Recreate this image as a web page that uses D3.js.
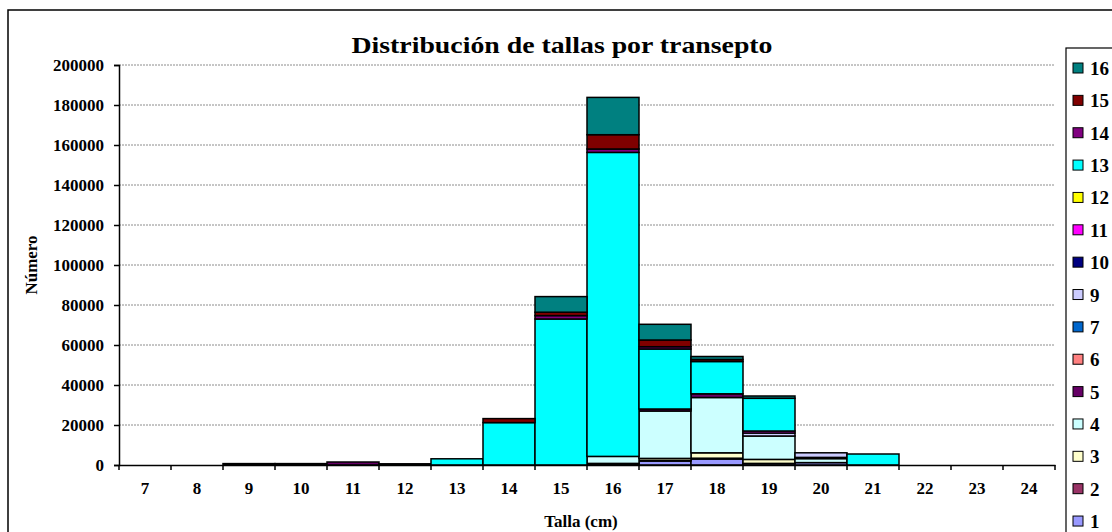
<!DOCTYPE html>
<html><head><meta charset="utf-8">
<script src="https://cdn.jsdelivr.net/npm/d3@7"></script>
<style>body{margin:0;background:#fff}text{font-family:"Liberation Serif","Times New Roman",serif;font-weight:bold}</style>
</head><body><svg id="c" width="1112" height="532"></svg>
<script>
const categories = ["7","8","9","10","11","12","13","14","15","16","17","18","19","20","21","22","23","24"];
const seriesNames = ["1","2","3","4","5","6","7","9","10","11","12","13","14","15","16"];
const seriesColors = ["#9999FF","#993366","#FFFFCC","#CCFFFF","#660066","#FF8080","#0066CC","#CCCCFF","#000080","#FF00FF","#FFFF00","#00FFFF","#800080","#800000","#008080"];
//                 7  8   9    10   11    12   13    14     15     16     17     18     19     20    21   22 23 24
const s1  = [0,0,0,0,0,0,0,0,0,500,2000,3000,800,1200,0,0,0,0];
const s2  = [0,0,0,0,0,0,0,0,0,0,300,400,0,0,0,0,0,0];
const s3  = [0,0,0,0,0,0,0,0,0,300,1000,2700,2000,0,0,0,0,0];
const s4  = [0,0,0,0,0,0,0,0,0,3500,23700,27650,11700,2000,0,0,0,0];
const s5  = [0,0,700,700,1500,600,0,0,0,0,1000,1850,0,600,0,0,0,0];
const s6  = [0,0,0,0,0,0,0,0,0,0,0,0,0,0,0,0,0,0];
const s7  = [0,0,0,0,0,0,0,0,0,0,0,0,0,0,0,0,0,0];
const s9  = [0,0,0,0,0,0,0,0,0,0,0,0,1500,2300,0,0,0,0];
const s10 = [0,0,0,0,0,0,0,0,0,0,0,0,0,0,0,0,0,0];
const s11 = [0,0,0,0,0,0,0,0,0,0,0,0,1000,0,0,0,0,0];
const s12 = [0,0,0,0,0,0,0,0,0,0,0,0,0,0,0,0,0,0];
const s13 = [0,0,0,0,0,0,3100,21200,73000,152000,30000,16150,16350,0,5500,0,0,0];
const s14 = [0,0,0,0,0,0,0,0,1700,1700,1150,0,0,0,0,0,0,0];
const s15 = [0,0,0,0,0,0,0,2000,1700,7150,3350,1000,0,0,0,0,0,0];
const s16 = [0,0,0,0,0,0,0,0,7800,18650,7850,1500,1150,0,0,0,0,0];
const seriesValues = [s1,s2,s3,s4,s5,s6,s7,s9,s10,s11,s12,s13,s14,s15,s16];
const yTicks = [0,20000,40000,60000,80000,100000,120000,140000,160000,180000,200000];

const svg = d3.select("#c");
const X0=119, X1=1055, Y0=465, Y1=65;

// outer frame
svg.append("rect").attr("x",8).attr("y",10).attr("width",1200).attr("height",600)
  .attr("fill","#fff").attr("stroke","#000").attr("stroke-width",1.5);

const x = d3.scaleBand().domain(categories).range([X0,X1]).padding(0);
const y = d3.scaleLinear().domain([0,200000]).range([Y0,Y1]);

// gridlines
svg.append("g").selectAll("line").data(yTicks.filter(d=>d>0)).join("line")
  .attr("x1",X0).attr("x2",X1).attr("y1",d=>y(d)).attr("y2",d=>y(d))
  .attr("stroke","#8c8c8c").attr("stroke-width",1).attr("stroke-dasharray","2,1");

// stacked data
const table = categories.map((c,i)=>{const o={cat:c}; seriesNames.forEach((s,j)=>o[s]=seriesValues[j][i]); return o;});
const stack = d3.stack().keys(seriesNames)(table);

const g = svg.append("g");
stack.forEach((layer,j)=>{
  g.append("g").attr("fill",seriesColors[j]).selectAll("rect")
    .data(layer.filter(d=>d[1]-d[0]>0)).join("rect")
    .attr("x",d=>x(d.data.cat)).attr("width",x.bandwidth())
    .attr("y",d=>y(d[1])).attr("height",d=>y(d[0])-y(d[1]))
    .attr("stroke","#000").attr("stroke-width",1.5);
});

// y axis
const ya = svg.append("g").attr("transform",`translate(${X0},0)`)
  .call(d3.axisLeft(y).tickValues(yTicks).tickFormat(d3.format("d")).tickSize(5).tickPadding(10));
ya.select(".domain").attr("stroke","#000").attr("stroke-width",1.5);
ya.selectAll(".tick line").attr("stroke","#000").attr("stroke-width",1.5);
ya.selectAll(".tick text").attr("font-size",17).attr("font-family","Liberation Serif").attr("font-weight","bold").attr("fill","#000");

// x axis
const xa = svg.append("g").attr("transform",`translate(0,${Y0})`)
  .call(d3.axisBottom(x).tickSize(0).tickPadding(17));
xa.select(".domain").attr("stroke","#000").attr("stroke-width",1.5);
xa.selectAll(".tick text").attr("font-size",17).attr("font-family","Liberation Serif").attr("font-weight","bold").attr("fill","#000");
svg.append("g").selectAll("line").data(categories).join("line")
  .attr("x1",d=>x(d)).attr("x2",d=>x(d)).attr("y1",Y0).attr("y2",Y0+5)
  .attr("stroke","#000").attr("stroke-width",1.5);
svg.append("line").attr("x1",X1).attr("x2",X1).attr("y1",Y0).attr("y2",Y0+5).attr("stroke","#000").attr("stroke-width",1.5);

// titles
svg.append("text").attr("x",562).attr("y",53).attr("text-anchor","middle").attr("font-size",24)
  .attr("textLength",421).attr("lengthAdjust","spacingAndGlyphs").text("Distribución de tallas por transepto");
svg.append("text").attr("x",581).attr("y",527).attr("text-anchor","middle").attr("font-size",17).text("Talla (cm)");
svg.append("text").attr("transform","translate(37,265) rotate(-90)").attr("text-anchor","middle").attr("font-size",17).text("Número");

// legend
svg.append("rect").attr("x",1066).attr("y",48).attr("width",100).attr("height",600)
  .attr("fill","#fff").attr("stroke","#000").attr("stroke-width",1.2);
const legendOrder = seriesNames.map((s,i)=>({name:s,color:seriesColors[i]})).reverse();
const lg = svg.append("g").selectAll("g").data(legendOrder).join("g")
  .attr("transform",(d,i)=>`translate(1073,${68+i*32.36})`);
lg.append("rect").attr("x",0).attr("y",-5).attr("width",10).attr("height",10)
  .attr("fill",d=>d.color).attr("stroke","#000").attr("stroke-width",1);
lg.append("text").attr("x",17).attr("y",7).attr("font-size",19).text(d=>d.name);
</script></body></html>
